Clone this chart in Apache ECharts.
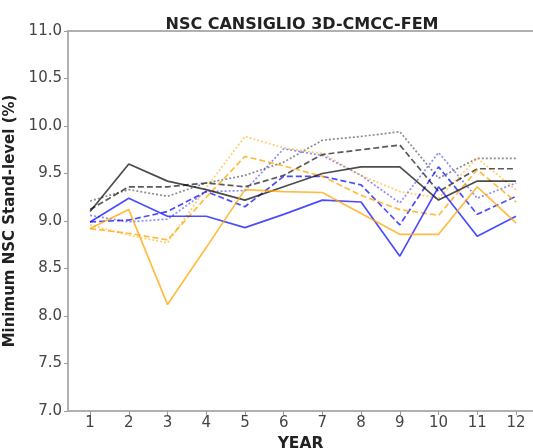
<!DOCTYPE html>
<html><head><meta charset="utf-8">
<script src="https://cdn.jsdelivr.net/npm/echarts@6/dist/echarts.min.js"></script>
<style>html,body{margin:0;padding:0;background:#fff}#c{width:533px;height:448px}</style>
</head><body><div id="c"></div>
<script>
const years = [1,2,3,4,5,6,7,8,9,10,11,12];
const yTicks = [7.0,7.5,8.0,8.5,9.0,9.5,10.0,10.5,11.0];
const blackSolid  = [9.10,9.60,9.42,9.33,9.22,9.36,9.50,9.57,9.57,9.22,9.42,9.42];
const blackDashed = [9.12,9.36,9.36,9.40,9.36,9.48,9.70,9.75,9.80,9.31,9.55,9.55];
const blackDotted = [9.21,9.33,9.26,9.40,9.48,9.62,9.85,9.89,9.94,9.45,9.66,9.66];
const blueSolid   = [8.99,9.24,9.05,9.05,8.93,9.07,9.22,9.20,8.63,9.36,8.84,9.05];
const blueDashed  = [8.99,9.01,9.10,9.31,9.15,9.47,9.47,9.38,8.96,9.57,9.07,9.26];
const blueDotted  = [9.06,8.99,9.02,9.31,9.32,9.76,9.69,9.48,9.19,9.72,9.24,9.40];
const orangeSolid = [8.92,9.12,8.12,8.72,9.33,9.31,9.30,9.08,8.86,8.86,9.36,8.98];
const orangeDashed= [8.92,8.87,8.80,9.25,9.68,9.58,9.47,9.27,9.12,9.06,9.54,9.20];
const orangeDotted= [8.96,8.85,8.77,9.35,9.89,9.77,9.71,9.48,9.31,9.24,9.66,9.33];

const pair = arr => years.map((y,i)=>[y,arr[i]]);
function line(name, data, color, type, opacity){
  return {name, type:'line', data:pair(data), symbol:'none', animation:false,
    lineStyle:{color, width:1.7, type, opacity}};
}
const chart = echarts.init(document.getElementById('c'), null, {renderer:'canvas'});
const font = 'DejaVu Sans';
chart.setOption({
  animation:false,
  title:{text:'NSC CANSIGLIO 3D-CMCC-FEM', left:297, top:12, textAlign:'center',
    textStyle:{fontFamily:font, fontWeight:'bold', fontSize:16, color:'#222'}},
  grid:{left:68, top:31, right:0, bottom:37, containLabel:false, outerBoundsMode:'none'},
  xAxis:[{type:'value', min:0.43, max:12.44, position:'bottom',
    name:'YEAR', nameLocation:'middle', nameGap:20,
    nameTextStyle:{fontFamily:font, fontWeight:'bold', fontSize:15.5, color:'#222'},
    axisLine:{show:true, lineStyle:{color:'#b0b0b0', width:2}},
    axisTick:{show:true, length:4, customValues:years, lineStyle:{color:'#999'}},
    axisLabel:{customValues:years, fontFamily:font, fontSize:15, color:'#444', margin:5},
    splitLine:{show:false}},
   {type:'value', min:0.43, max:12.44, position:'top',
    axisLine:{show:true, lineStyle:{color:'#b0b0b0', width:2}},
    axisTick:{show:false}, axisLabel:{show:false}, splitLine:{show:false}}],
  yAxis:{type:'value', min:7, max:11, interval:0.5,
    name:'Minimum NSC Stand-level (%)', nameLocation:'middle', nameGap:38, nameRotate:90,
    nameTextStyle:{fontFamily:font, fontWeight:'bold', fontSize:15, color:'#222'},
    axisLine:{show:true, lineStyle:{color:'#b0b0b0', width:2}},
    axisTick:{show:true, length:4, lineStyle:{color:'#999'}},
    axisLabel:{fontFamily:font, fontSize:15, color:'#444', margin:6, formatter:v=>v.toFixed(1)},
    splitLine:{show:false}},
  series:[
    line('black dotted', blackDotted, '#000', [2,2], 0.45),
    line('blue dotted', blueDotted, '#0000ff', [2,2], 0.45),
    line('orange dotted', orangeDotted, '#ffa500', [2,2], 0.55),
    line('black dashed', blackDashed, '#000', [6,3], 0.65),
    line('blue dashed', blueDashed, '#0000ff', [6,3], 0.7),
    line('orange dashed', orangeDashed, '#ffa500', [6,3], 0.75),
    line('black solid', blackSolid, '#000', 'solid', 0.7),
    line('blue solid', blueSolid, '#0000ff', 'solid', 0.7),
    line('orange solid', orangeSolid, '#ffa500', 'solid', 0.75)
  ]
});
</script></body></html>
